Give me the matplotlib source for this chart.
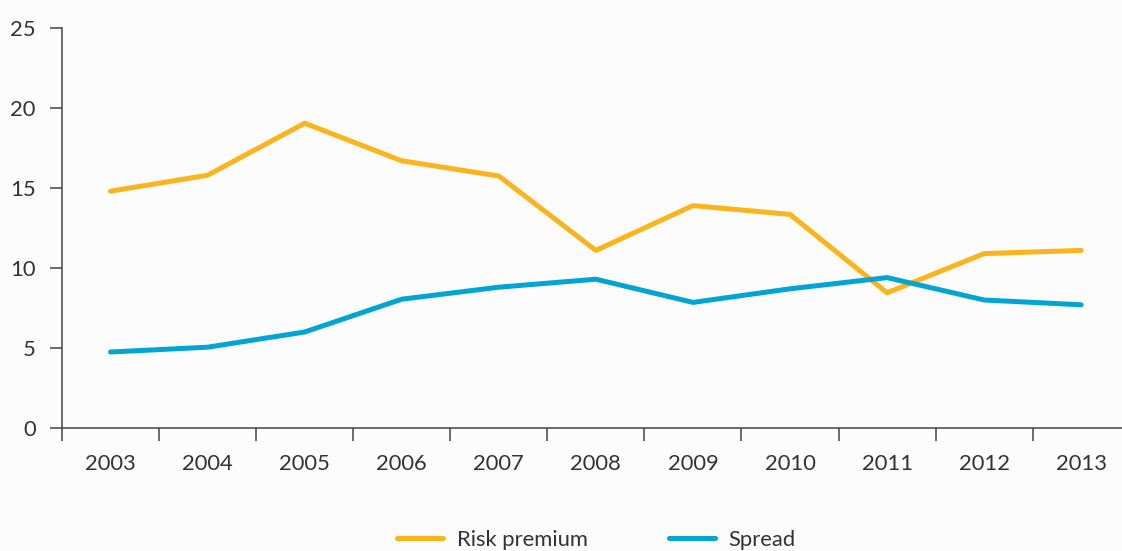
import matplotlib.pyplot as plt
import numpy as np

plt.rcParams['font.family'] = ['Lato', 'DejaVu Sans']

years = ["2003", "2004", "2005", "2006", "2007", "2008", "2009", "2010", "2011", "2012", "2013"]
risk_premium = [14.8, 15.8, 19.05, 16.7, 15.75, 11.1, 13.9, 13.35, 8.45, 10.9, 11.1]
spread = [4.75, 5.05, 6.0, 8.05, 8.8, 9.3, 7.85, 8.7, 9.4, 8.0, 7.7]

fig = plt.figure(figsize=(11.22, 5.51), dpi=100, facecolor="#fcfcfc")
ax = fig.add_axes([62 / 1122, 1 - 428 / 551, 1 - 62 / 1122, 400 / 551])
ax.set_facecolor("#fcfcfc")

x = np.arange(len(years))
ax.plot(x, risk_premium, color="#fbb41b", lw=3.6, solid_capstyle="round", label="Risk premium")
ax.plot(x, spread, color="#00a5d3", lw=3.6, solid_capstyle="round", label="Spread")

ax.set_ylim(0, 25)
ax.set_yticks(range(0, 26, 5))
ax.set_xlim(-0.5, 10.42)
ax.set_xticks(x)
ax.set_xticklabels(years)
ax.set_xticks(np.arange(-0.5, 10.5, 1), minor=True)
ax.tick_params(axis="x", which="major", length=0, pad=19, labelsize=15.8, labelcolor="#333333")
ax.tick_params(axis="x", which="minor", length=9, width=1.1, color="#444444", direction="out")
ax.tick_params(axis="y", length=9, width=1.1, color="#444444", pad=10, labelsize=15.8, labelcolor="#333333")

for s in ["top", "right"]:
    ax.spines[s].set_visible(False)
for s in ["left", "bottom"]:
    ax.spines[s].set_color("#444444")
    ax.spines[s].set_linewidth(1.1)

ax.legend(loc="upper center", bbox_to_anchor=(0.504, -0.205), ncol=2, frameon=False,
          fontsize=15.8, handlelength=2.1, handletextpad=0.6, columnspacing=3.7,
          labelcolor="#333333")

fig.savefig("out.png", dpi=100, facecolor=fig.get_facecolor())
